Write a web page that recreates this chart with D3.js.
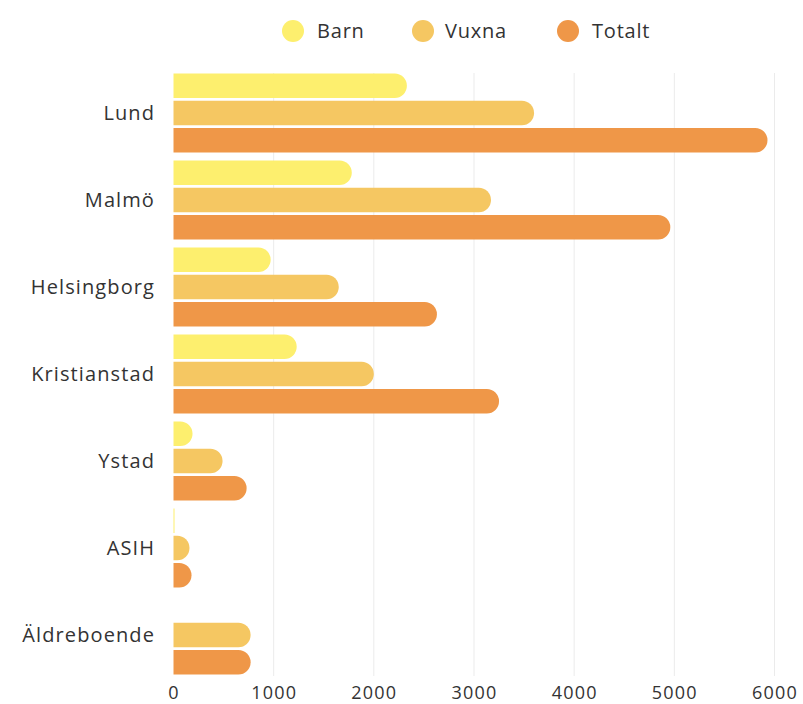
<!DOCTYPE html>
<html><head><meta charset="utf-8">
<script src="https://cdn.jsdelivr.net/npm/d3@7"></script>
<style>body{margin:0;background:#fff}svg{display:block}text{font-family:"Open Sans",Lato,sans-serif}</style>
</head><body><svg id="c" width="803" height="704"></svg>
<script>
const categories=["Lund","Malmö","Helsingborg","Kristianstad","Ystad","ASIH","Äldreboende"];
const seriesNames=["Barn","Vuxna","Totalt"];
const barn=[2330,1780,970,1230,190,10,0];
const vuxna=[3600,3170,1650,2000,490,160,770];
const totalt=[5930,4960,2630,3250,730,180,770];
const ticks=[0,1000,2000,3000,4000,5000,6000];
const colors=["#fdef6e","#f5c762","#ef9748"];
const values=[barn,vuxna,totalt];

const svg=d3.select("#c");
const x=d3.scaleLinear().domain([0,6000]).range([173.5,774.5]);
const y=d3.scaleBand().domain(categories).range([69.5,678.5]).paddingInner(0.092).paddingOuter(0.046);
const ys=d3.scaleBand().domain(seriesNames).range([0,y.bandwidth()]).paddingInner(0.1);

// grid
svg.append("g").selectAll("line").data(ticks.slice(1)).join("line")
 .attr("x1",d=>x(d)).attr("x2",d=>x(d)).attr("y1",73).attr("y2",676)
 .attr("stroke","#ebebeb").attr("stroke-width",1);

// bars
function barPath(x0,y0,w,h){
  const r=Math.min(h/2,w);
  if(w<=0) return "";
  return `M${x0},${y0}H${x0+w-r}A${r},${h/2} 0 0 1 ${x0+w-r},${y0+h}H${x0}Z`;
}
const g=svg.append("g");
categories.forEach((c,i)=>{
  seriesNames.forEach((s,j)=>{
    const v=values[j][i];
    if(v<=0) return;
    const w=x(v)-x(0);
    const by=y(c)+ys(s);
    if(w<3){
      g.append("rect").attr("x",x(0)).attr("y",by).attr("width",Math.max(w,1)).attr("height",ys.bandwidth()).attr("fill",colors[j]);
    } else {
      g.append("path").attr("d",barPath(x(0),by,w,ys.bandwidth())).attr("fill",colors[j]);
    }
  });
});

// y labels
svg.append("g").selectAll("text").data(categories).join("text")
 .attr("x",155).attr("y",d=>y(d)+y.bandwidth()/2).attr("dy","0.35em")
 .attr("text-anchor","end").attr("font-size",20).attr("letter-spacing",1.1).attr("fill","#333").text(d=>d);

// x axis
const xa=svg.append("g").attr("transform","translate(0,680)")
 .call(d3.axisBottom(x).tickValues(ticks).tickSize(0).tickPadding(6).tickFormat(d3.format("d")));
xa.select(".domain").remove();
xa.selectAll("text").attr("font-size",18).attr("letter-spacing",1.2).attr("fill","#333").style("font-family","'Open Sans',Lato,sans-serif");

// legend
const leg=[{cx:293,tx:317},{cx:423,tx:445},{cx:568,tx:592}];
seriesNames.forEach((s,j)=>{
  svg.append("circle").attr("cx",leg[j].cx).attr("cy",31).attr("r",11).attr("fill",colors[j]);
  svg.append("text").attr("x",leg[j].tx).attr("y",31).attr("dy","0.35em").attr("font-size",20).attr("letter-spacing",0.8).attr("fill","#333").text(s);
});
</script></body></html>
